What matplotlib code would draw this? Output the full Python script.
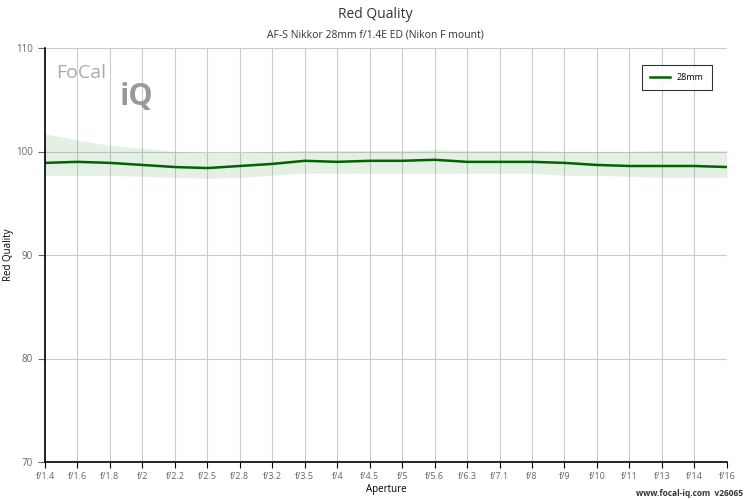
import matplotlib
matplotlib.use("Agg")
import matplotlib.pyplot as plt
import numpy as np

apertures = ["f/1.4", "f/1.6", "f/1.8", "f/2", "f/2.2", "f/2.5", "f/2.8", "f/3.2", "f/3.5", "f/4",
             "f/4.5", "f/5", "f/5.6", "f/6.3", "f/7.1", "f/8", "f/9", "f/10", "f/11", "f/13", "f/14", "f/16"]
quality = [98.9, 99.0, 98.9, 98.7, 98.5, 98.4, 98.6, 98.8, 99.1, 99.0,
           99.1, 99.1, 99.2, 99.0, 99.0, 99.0, 98.9, 98.7, 98.6, 98.6, 98.6, 98.5]
upper = [101.7, 101.1, 100.6, 100.3, 100.0, 99.9, 99.9, 100.0, 100.1, 100.1,
         100.1, 100.1, 100.2, 100.1, 100.1, 100.1, 100.0, 100.0, 100.0, 100.1, 100.1, 100.1]
lower = [97.7, 97.7, 97.7, 97.6, 97.5, 97.4, 97.5, 97.7, 97.9, 97.9,
         97.9, 97.9, 97.9, 97.9, 97.9, 97.9, 97.7, 97.7, 97.6, 97.5, 97.5, 97.5]

plt.rcParams.update({"font.family": "Open Sans"})
fig = plt.figure(figsize=(7.5, 5), dpi=100)
ax = fig.add_axes([0.06, 0.076, 0.909, 0.828])
x = np.arange(len(apertures))

ax.fill_between(x, lower, upper, color="#2e8b2e", alpha=0.12, linewidth=0)
ax.plot(x, quality, color="#006400", linewidth=1.8, label="28mm")

ax.set_xlim(0, len(apertures) - 1)
ax.set_ylim(70, 110)
ax.set_xticks(x)
ax.set_xticklabels(apertures, fontsize=6.5, color="#666666")
ax.set_yticks([70, 80, 90, 100, 110])
ax.tick_params(axis="y", labelsize=7, colors="#666666", length=5)
ax.tick_params(axis="x", length=4)
ax.grid(True, color="#cccccc", linewidth=0.8)
ax.set_axisbelow(True)
for s in ("top", "right"):
    ax.spines[s].set_visible(False)
for s in ("left", "bottom"):
    ax.spines[s].set_color("black")
    ax.spines[s].set_linewidth(1.2)
ax.set_xlabel("Aperture", fontsize=7, labelpad=2)
ax.set_ylabel("Red Quality", fontsize=7, labelpad=8)
ax.yaxis.set_label_coords(-0.045, 0.5)

leg = ax.legend(loc="upper right", fontsize=6.5, frameon=True, fancybox=False,
                borderpad=0.9, handlelength=2.2, bbox_to_anchor=(0.985, 0.97))
leg.get_frame().set_edgecolor("black")
leg.get_frame().set_linewidth(0.8)

fig.text(0.5, 0.965, "Red Quality", ha="center", fontsize=10, color="#333333")
fig.text(0.5, 0.925, "AF-S Nikkor 28mm f/1.4E ED (Nikon F mount)", ha="center", fontsize=7.5, color="#333333")
fig.text(0.99, 0.008, "www.focal-iq.com  v26065", ha="right", fontsize=6, fontweight="bold", color="#333333")
fig.text(0.075, 0.845, "FoCal", fontsize=14, color="#aaaaaa")
fig.text(0.16, 0.79, "iQ", fontsize=22, color="#999999", fontweight="bold")

fig.savefig("out.png", dpi=100)
